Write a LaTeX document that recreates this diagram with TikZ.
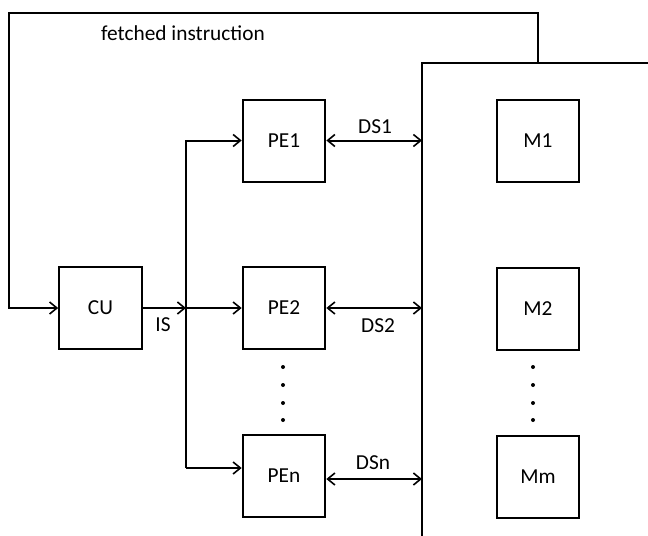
\documentclass[tikz,border=0pt]{standalone}
\usepackage{fontspec}
\setmainfont{Carlito}
\usetikzlibrary{positioning,arrows.meta,calc}

\begin{document}
\begin{tikzpicture}[x=0.75pt,y=-0.75pt,line width=1.5pt,
  >={Straight Barb[length=5.5pt,width=9pt,line width=1.2pt]},
  blk/.style={draw,line width=1.5pt,minimum width=62pt,minimum height=61.5pt,inner sep=0pt,font=\fontsize{16}{19}\selectfont},
  lbl/.style={font=\fontsize{16}{19}\selectfont},
  dot/.style={circle,fill,inner sep=0pt,minimum size=3pt}]
\clip (0,0) rectangle (648,535);
\node[blk] (cu) at (100.5,308) {CU};
\node[blk] (pe1) at (284,140.5) {PE1};
\node[blk] (pe2) at (284,308) {PE2};
\node[blk] (pen) at (284,476) {PEn};
\node[blk] (m1) at (538,140.5) {M1};
\node[blk] (m2) at (538,308.5) {M2};
\node[blk] (mm) at (538,477) {Mm};
% memory box
\draw (660,63) -- (422,63) -- (422,545);
\coordinate (mem) at (422,63);
\coordinate (fb) at (538,63);
\coordinate (top) at (9,13);
\coordinate (bus) at (186,308);
\coordinate (pen-in) at ([yshift=6pt]pen.west);
% fetched instruction loop
\draw[->] (fb) |- (top) |- (cu.west);
\node[lbl] (fi) at (183,33) {fetched instruction};
% instruction stream
\draw[->] (cu.east) -- (bus);
\node[lbl] (is) at (163,325) {IS};
\draw[->] (bus |- pen-in) -- (bus |- pe1.west) -- (pe1.west);
\draw[->] (bus) -- (pe2.west);
\draw[->] (bus |- pen-in) -- (pen-in);
% data streams
\draw[<->] (pe1.east) -- (pe1.east -| mem);
\draw[<->] (pe2.east) -- (pe2.east -| mem);
\draw[<->] ([yshift=-2.25pt]pen.east) -- ([yshift=-2.25pt]pen.east -| mem);
\node[lbl] (ds1) at (375,127) {DS1};
\node[lbl] (ds2) at (378,326) {DS2};
\node[lbl] (dsn) at (373,463) {DSn};
\foreach \y in {367,385,403,420} {
  \node[dot] at (283,\y) {};
  \node[dot] at (533,\y) {};
}
\end{tikzpicture}
\end{document}
